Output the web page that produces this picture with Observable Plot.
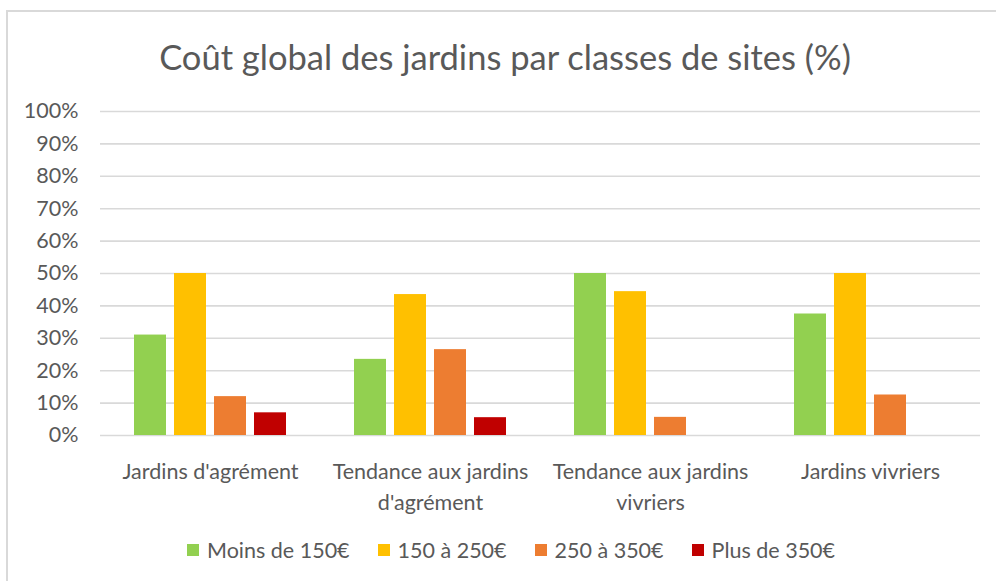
<!DOCTYPE html>
<html>
<head>
<meta charset="utf-8">
<script src="https://cdn.jsdelivr.net/npm/d3@7"></script>
<script src="https://cdn.jsdelivr.net/npm/@observablehq/plot@0.6"></script>
<style>
  html, body { margin: 0; padding: 0; background: #fff; }
  #wrap { position: relative; width: 996px; height: 581px; overflow: hidden; background: #fff; font-family: Lato, "Open Sans", sans-serif; color: #595959; }
  #frame { position: absolute; left: 6px; top: 10px; width: 1010px; height: 600px; border-top: 2px solid #d9d9d9; border-left: 2px solid #d9d9d9; }
  #title { position: absolute; top: 40px; left: 505px; transform: translateX(-50%); white-space: nowrap; font-size: 34.5px; line-height: 1; }
  #chart { position: absolute; left: 0; top: 0; }
  #legend { position: absolute; left: 187px; top: 537px; display: flex; align-items: center; font-size: 21.5px; line-height: 26px; white-space: nowrap; }
  .item { display: flex; align-items: center; margin-right: 28px; }
  .sw { width: 12px; height: 12px; margin-right: 8px; }
</style>
</head>
<body>
<div id="wrap">
  <div id="frame"></div>
  <div id="title">Coût global des jardins par classes de sites (%)</div>
  <div id="chart"></div>
  <div id="legend"></div>
</div>
<script>
const categories = ["Jardins d'agrément", "Tendance aux jardins d'agrément", "Tendance aux jardins vivriers", "Jardins vivriers"];
const categoryLabels = ["Jardins d'agrément", "Tendance aux jardins\nd'agrément", "Tendance aux jardins\nvivriers", "Jardins vivriers"];
const series = ["Moins de 150€", "150 à 250€", "250 à 350€", "Plus de 350€"];
const colors = ["#92d050", "#ffc000", "#ed7d31", "#c00000"];
const moins150 = [31, 23.5, 50, 37.5];
const de150a250 = [50, 43.5, 44.4, 50];
const de250a350 = [12, 26.5, 5.6, 12.5];
const plus350 = [7, 5.5, 0, 0];
const yTicks = [0, 10, 20, 30, 40, 50, 60, 70, 80, 90, 100];

const seriesValues = [moins150, de150a250, de250a350, plus350];
const rows = [];
categories.forEach((c, i) => {
  series.forEach((s, j) => {
    const v = seriesValues[j][i];
    if (v > 0) rows.push({cat: c, series: s, value: v});
  });
});

const chart = Plot.plot({
  width: 996,
  height: 520,
  marginLeft: 100,
  marginRight: 16,
  marginTop: 111,
  marginBottom: 85,
  style: {fontFamily: "Lato, 'Open Sans', sans-serif", fontSize: "21.5px", color: "#595959", background: "transparent"},
  fx: {domain: categories, padding: 0, label: null},
  x: {domain: series, paddingInner: 0.2, paddingOuter: 0.85, axis: null},
  y: {domain: [0, 100], label: null},
  color: {domain: series, range: colors},
  marks: [
    Plot.gridY(yTicks, {stroke: "#d9d9d9", strokeOpacity: 1, strokeWidth: 1.6}),
    Plot.axisY(yTicks, {tickSize: 0, tickPadding: 22, tickFormat: d => d + "%", label: null, fill: "#595959"}),
    Plot.barY(rows, {fx: "cat", x: "series", y: "value", fill: "series"}),
    Plot.axisFx({anchor: "bottom", tickSize: 0, tickPadding: 22, label: null, lineHeight: 1.44, fill: "#595959",
      tickFormat: d => categoryLabels[categories.indexOf(d)]})
  ]
});
document.getElementById("chart").appendChild(chart);

const legend = document.getElementById("legend");
series.forEach((s, i) => {
  const it = document.createElement("div");
  it.className = "item";
  const sw = document.createElement("div");
  sw.className = "sw";
  sw.style.background = colors[i];
  const t = document.createElement("span");
  t.textContent = s;
  it.appendChild(sw);
  it.appendChild(t);
  legend.appendChild(it);
});
</script>
</body>
</html>
